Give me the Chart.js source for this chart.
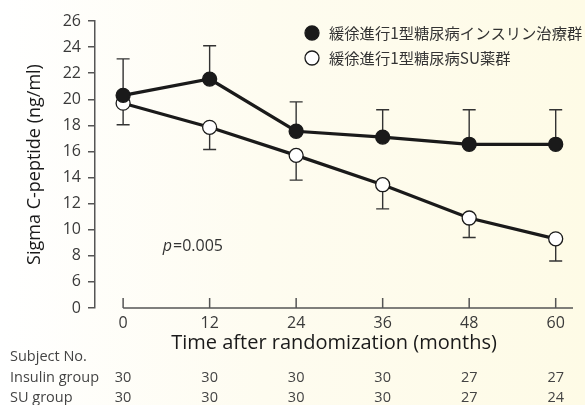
<!DOCTYPE html>
<html>
<head>
<meta charset="utf-8">
<script src="https://cdn.jsdelivr.net/npm/chart.js@4"></script>
<style>
  html, body { margin: 0; padding: 0; }
  body { width: 585px; height: 405px; background: linear-gradient(to right, #ffffff 0%, #fefcf0 45%, #fefbe6 100%); }
  #wrap { position: relative; width: 585px; height: 405px; }
</style>
</head>
<body>
<div id="wrap"><canvas id="c" width="585" height="405"></canvas></div>
<script>
const months = [0, 12, 24, 36, 48, 60]
const insulin = [20.3, 21.55, 17.55, 17.1, 16.55, 16.55]
const insulinUpper = [23.1, 24.1, 19.8, 19.2, 19.2, 19.2]
const su = [19.7, 17.85, 15.7, 13.45, 10.9, 9.3]
const suLower = [18.05, 16.15, 13.8, 11.6, 9.4, 7.6]
const yTicks = [4, 6, 8, 10, 12, 14, 16, 18, 20, 22, 24, 26]
const insulinN = [30, 30, 30, 30, 27, 27]
const suN = [30, 30, 30, 30, 27, 24]
const labels = ['緩徐進行1型糖尿病インスリン治療群', '緩徐進行1型糖尿病SU薬群']

const font = '"Open Sans", "Noto Sans", sans-serif'
const cjk = '"Noto Sans CJK JP", "Open Sans", sans-serif'
const ink = '#1a1a1a'

const toPoints = (vals) => months.map((m, i) => ({ x: m, y: vals[i] }))

const extras = {
  id: 'extras',
  beforeDatasetsDraw(chart) {
    const { ctx, scales: { x, y } } = chart
    ctx.save()
    ctx.strokeStyle = '#333'
    ctx.lineWidth = 1.4
    const bar = (m, from, to) => {
      const px = x.getPixelForValue(m)
      ctx.beginPath()
      ctx.moveTo(px, y.getPixelForValue(from))
      ctx.lineTo(px, y.getPixelForValue(to))
      ctx.moveTo(px - 6.5, y.getPixelForValue(to))
      ctx.lineTo(px + 6.5, y.getPixelForValue(to))
      ctx.stroke()
    }
    months.forEach((m, i) => {
      bar(m, insulin[i], insulinUpper[i])
      bar(m, su[i], suLower[i])
    })
    ctx.restore()
  },
  afterDraw(chart) {
    const { ctx, chartArea, scales: { x, y } } = chart
    ctx.save()
    // x axis line with inner ticks
    ctx.strokeStyle = '#555'
    ctx.lineWidth = 1.5
    ctx.beginPath()
    ctx.moveTo(x.getPixelForValue(0), chartArea.bottom)
    ctx.lineTo(chartArea.right, chartArea.bottom)
    months.forEach(m => {
      const px = x.getPixelForValue(m)
      ctx.moveTo(px, chartArea.bottom)
      ctx.lineTo(px, chartArea.bottom - 10)
    })
    ctx.stroke()

    // legend
    ctx.textBaseline = 'middle'
    ctx.font = '15.3px ' + cjk
    const legendY = [33, 58]
    labels.forEach((t, i) => {
      ctx.beginPath()
      ctx.arc(312, legendY[i], 7, 0, Math.PI * 2)
      ctx.fillStyle = i === 0 ? ink : '#fff'
      ctx.fill()
      ctx.lineWidth = 1.3
      ctx.strokeStyle = ink
      ctx.stroke()
      ctx.fillStyle = '#333'
      ctx.textAlign = 'left'
      ctx.fillText(t, 329, legendY[i])
    })

    // p value
    ctx.font = 'italic 16px ' + font
    const pX = x.getPixelForValue(5.5)
    const pY = y.getPixelForValue(8.75)
    ctx.fillStyle = '#333'
    ctx.fillText('p', pX, pY)
    const pw = ctx.measureText('p').width
    ctx.font = '16px ' + font
    ctx.fillText('=0.005', pX + pw + 1, pY)

    // subject table
    ctx.font = '14.5px ' + font
    ctx.fillStyle = '#444'
    ctx.textAlign = 'left'
    ctx.fillText('Subject No.', 10, 357)
    ctx.fillText('Insulin group', 10, 378)
    ctx.fillText('SU group', 10, 398)
    ctx.textAlign = 'center'
    months.forEach((m, i) => {
      const px = x.getPixelForValue(m)
      ctx.fillText(String(insulinN[i]), px, 378)
      ctx.fillText(String(suN[i]), px, 398)
    })
    ctx.restore()
  }
}

new Chart(document.getElementById('c'), {
  type: 'line',
  data: {
    datasets: [
      {
        label: labels[0],
        data: toPoints(insulin),
        borderColor: ink,
        borderWidth: 3.2,
        backgroundColor: ink,
        pointBackgroundColor: ink,
        pointBorderColor: ink,
        pointBorderWidth: 1.3,
        pointRadius: 7,
        tension: 0
      },
      {
        label: labels[1],
        data: toPoints(su),
        borderColor: ink,
        borderWidth: 3.2,
        backgroundColor: '#fff',
        pointBackgroundColor: '#fff',
        pointBorderColor: ink,
        pointBorderWidth: 1.3,
        pointRadius: 7,
        tension: 0
      }
    ]
  },
  options: {
    responsive: false,
    animation: false,
    layout: { padding: { left: 0, right: 12, top: 21, bottom: 50 } },
    plugins: { legend: { display: false }, tooltip: { enabled: false } },
    scales: {
      x: {
        type: 'linear',
        min: -3.9,
        max: 62.4,
        afterBuildTicks: (s) => { s.ticks = months.map(v => ({ value: v })) },
        afterFit: (s) => { s.height = 47 },
        grid: { display: false },
        border: { display: false },
        ticks: { color: '#3a3a3a', font: { family: font, size: 16 }, padding: -2 },
        title: {
          display: true,
          text: 'Time after randomization (months)',
          color: '#1a1a1a',
          font: { family: font, size: 20 },
          padding: { top: 0, bottom: 0 }
        }
      },
      y: {
        min: 4,
        max: 26,
        afterBuildTicks: (s) => { s.ticks = yTicks.map(v => ({ value: v })) },
        afterFit: (s) => { s.width = 95 },
        grid: { drawOnChartArea: false, drawTicks: true, tickLength: 7, color: '#555', lineWidth: 1.5 },
        border: { display: true, color: '#555', width: 1.5 },
        ticks: {
          color: '#3a3a3a',
          font: { family: font, size: 16 },
          padding: 7,
          callback: (v) => v === 4 ? '0' : String(v)
        },
        title: {
          display: true,
          text: 'Sigma C-peptide (ng/ml)',
          color: '#1a1a1a',
          font: { family: font, size: 18 },
          padding: { top: 24, bottom: 4 }
        }
      }
    }
  },
  plugins: [extras]
})
</script>
</body>
</html>
